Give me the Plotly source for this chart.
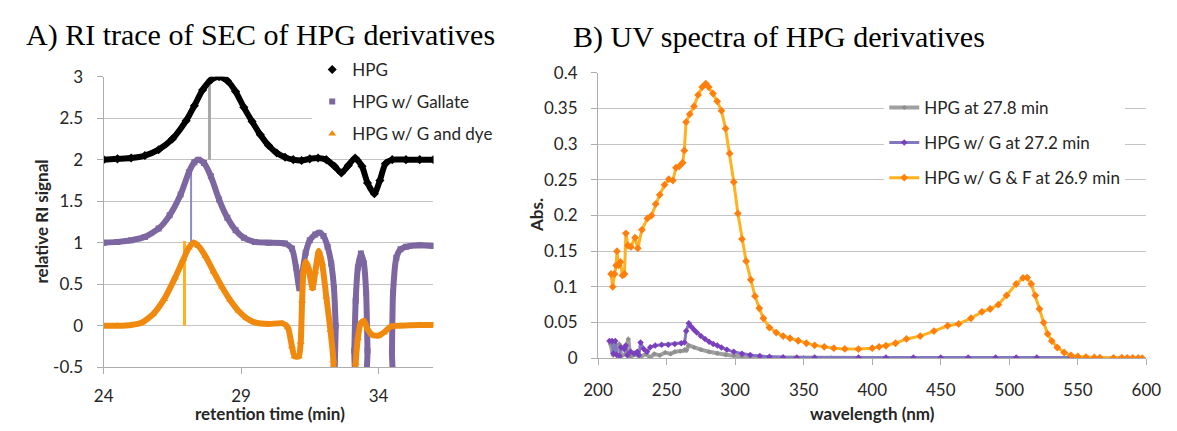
import plotly.graph_objects as go

# ---------------- Panel A: RI trace of SEC ----------------
rt_hpg = [24.0, 24.5, 25.0, 25.5, 26.0, 26.5, 27.0, 27.3, 27.6, 27.9, 28.2, 28.5, 28.8,
          29.1, 29.4, 29.7, 30.0, 30.3, 30.6, 30.9, 31.2, 31.5, 31.8, 32.1, 32.4, 32.65,
          32.9, 33.15, 33.4, 33.6, 33.85, 34.05, 34.25, 34.5, 35.0, 35.5, 36.0]
ri_hpg = [2.00, 2.01, 2.02, 2.05, 2.12, 2.25, 2.47, 2.65, 2.84, 2.96, 3.00, 2.95, 2.82,
          2.63, 2.46, 2.30, 2.17, 2.08, 2.03, 2.00, 1.99, 2.01, 2.02, 2.00, 1.92, 1.84,
          1.93, 2.02, 1.92, 1.72, 1.59, 1.75, 1.95, 2.00, 2.00, 2.00, 2.00]

rt_gal = [24.0, 24.5, 25.0, 25.5, 26.0, 26.4, 26.8, 27.1, 27.3, 27.45, 27.65, 27.9, 28.2,
          28.5, 28.8, 29.1, 29.5, 30.0, 30.6, 30.85, 31.0, 31.12, 31.22, 31.35, 31.5, 31.7,
          31.85, 32.0, 32.15, 32.28, 32.38, 32.44, 32.5, 33.08, 33.12, 33.17, 33.25, 33.36,
          33.47, 33.55, 33.6, 33.63, 34.45, 34.49, 34.53, 34.65, 34.8, 35.0, 35.5, 36.0]
ri_gal = [1.00, 1.01, 1.03, 1.07, 1.17, 1.33, 1.58, 1.85, 1.97, 2.00, 1.96, 1.80, 1.52,
          1.30, 1.15, 1.06, 1.01, 1.00, 0.99, 0.93, 0.70, 0.45, 0.62, 0.88, 1.03, 1.10,
          1.12, 1.08, 0.95, 0.75, 0.45, 0.00, -0.9, -0.9, -0.3, 0.30, 0.70, 0.87,
          0.75, 0.40, -0.3, -0.9, -0.9, -0.3, 0.40, 0.82, 0.92, 0.95, 0.97, 0.96]

rt_dye = [24.0, 24.5, 25.0, 25.4, 25.8, 26.2, 26.6, 26.9, 27.1, 27.27, 27.45, 27.7, 28.0,
          28.3, 28.6, 28.9, 29.2, 29.5, 30.0, 30.5, 30.7, 30.85, 30.95, 31.1, 31.17, 31.22,
          31.27, 31.35, 31.45, 31.6, 31.7, 31.83, 31.95, 32.1, 32.25, 32.36, 32.4, 33.1,
          33.17, 33.25, 33.35, 33.47, 33.6, 33.77, 34.0, 34.2, 34.45, 34.8, 35.5, 36.0]
ri_dye = [0.00, 0.00, 0.01, 0.04, 0.14, 0.32, 0.58, 0.80, 0.94, 1.00, 0.96, 0.84, 0.65,
          0.47, 0.31, 0.18, 0.09, 0.04, 0.02, 0.03, -0.02, -0.25, -0.37, -0.37, -0.20, 0.30,
          0.65, 0.77, 0.70, 0.45, 0.65, 0.90, 0.75, 0.35, -0.05, -0.42, -0.9, -0.9,
          -0.45, -0.15, 0.03, 0.06, -0.04, -0.11, -0.12, -0.08, -0.01, 0.00, 0.01, 0.01]

peak_rt = [27.85, 27.18, 26.94]
peak_lo = [2.0, 1.0, 0.0]
peak_hi = [2.90, 1.88, 1.02]

a_names = ["HPG", "HPG w/ Gallate", "HPG w/ G and dye"]
a_yticks = [-0.5, 0, 0.5, 1, 1.5, 2, 2.5, 3]
a_yticktext = ["-0.5", "0", "0.5", "1", "1.5", "2", "2.5", "3"]
a_xticks = [24, 29, 34]

# ---------------- Panel B: UV spectra ----------------
wl_hpg = [209, 211, 213, 215.5, 217, 220, 222.1, 223.5, 227, 231, 235, 238, 241, 245, 249,
          253, 256, 260, 263, 264.5, 266, 270, 275, 281, 287, 293, 299, 305, 311, 320, 335,
          350, 370, 400, 450, 500, 550, 580]
abs_hpg = [0.020, 0.004, 0.010, 0.020, 0.003, 0.006, 0.027, 0.002, 0.005, 0.002, 0.006,
           0.001, 0.006, 0.004, 0.008, 0.006, 0.009, 0.010, 0.012, 0.011, 0.018, 0.015,
           0.012, 0.009, 0.0067, 0.005, 0.0036, 0.0028, 0.0022, 0.0015, 0.001, 0.0007,
           0.0005, 0.0003, 0.0002, 0.0002, 0.0001, 0.0]

wl_g = [208.3, 210.2, 211.2, 212.6, 213.6, 215.5, 216.7, 219, 220.2, 221.4, 223.8, 226.2,
        228.6, 229.8, 231, 233.3, 235.7, 238.1, 241.7, 246.4, 251.2, 256, 260.7, 263.1,
        264.3, 266.2, 268, 270, 272, 275, 278, 281, 284, 287, 290, 294, 299, 305, 311,
        318, 325, 335, 345, 358, 390, 410, 430, 450, 470, 490, 505, 520, 545]
abs_g = [0.024, 0.024, 0.0067, 0.024, 0.0044, 0.003, 0.0155, 0.013, 0.0178, 0.004, 0.009,
         0.0067, 0.009, 0.0044, 0.022, 0.013, 0.009, 0.0155, 0.0178, 0.0187, 0.019, 0.020,
         0.021, 0.022, 0.038, 0.0489, 0.044, 0.040, 0.036, 0.031, 0.027, 0.023, 0.020,
         0.0178, 0.015, 0.012, 0.0089, 0.0062, 0.0044, 0.003, 0.002, 0.0014, 0.001, 0.001,
         0.001, 0.001, 0.001, 0.001, 0.001, 0.001, 0.001, 0.001, 0.001]

wl_gf = [209.5, 210.7, 212.0, 213.2, 213.8, 215.0, 216.3, 217.8, 219.3, 220.3, 221.8, 224.0,
         227.0, 229.0, 232.0, 236.0, 239.0, 242.0, 245.0, 248.5, 251.6, 254.6, 256.8,
         259.2, 261.7, 262.9, 264.2, 266.9, 270.0, 273.0, 276.0, 278.6, 280.7, 283.8,
         286.9, 290.0, 293.0, 296.0, 299.0, 302.0, 305.0, 308.0, 311.4, 314.5, 317.6,
         320.6, 325, 330, 335, 340, 346, 352, 358, 365, 372, 380, 390, 400, 405, 410,
         417, 425, 435, 445, 455, 463, 472, 480, 486, 492, 498, 505, 510, 513, 516, 519,
         522, 525, 528, 531, 535, 540, 545, 550, 556, 562, 566, 576, 582, 586, 590, 594, 597]
abs_gf = [0.118, 0.100, 0.118, 0.130, 0.150, 0.130, 0.135, 0.116, 0.118, 0.175, 0.158,
          0.156, 0.169, 0.154, 0.180, 0.196, 0.200, 0.216, 0.229, 0.243, 0.251, 0.249,
          0.267, 0.269, 0.274, 0.291, 0.331, 0.342, 0.353, 0.369, 0.380, 0.385, 0.380,
          0.371, 0.360, 0.347, 0.322, 0.287, 0.247, 0.203, 0.167, 0.136, 0.110, 0.087,
          0.070, 0.056, 0.043, 0.036, 0.031, 0.028, 0.0245, 0.021, 0.018, 0.016, 0.014,
          0.013, 0.0128, 0.014, 0.016, 0.0175, 0.021, 0.027, 0.031, 0.038, 0.0455, 0.048,
          0.056, 0.065, 0.069, 0.075, 0.088, 0.104, 0.1125, 0.113, 0.104, 0.088, 0.069,
          0.050, 0.034, 0.024, 0.015, 0.008, 0.004, 0.0025, 0.0015, 0.001, 0.0008, 0.0005,
          0.0008, 0.0005, 0.0006, 0.0004, 0.0]

b_names = ["HPG at 27.8 min", "HPG w/ G at 27.2 min", "HPG w/ G & F at 26.9 min"]
b_xticks = [200, 250, 300, 350, 400, 450, 500, 550, 600]
b_yticks = [0, 0.05, 0.1, 0.15, 0.2, 0.25, 0.3, 0.35, 0.4]

# ---------------- figure ----------------
W, H = 1177, 431
def px(x):
    return x / W
def py(y):
    return 1 - y / H

TICKFONT = dict(family="Lato", size=17, color="#262626")
GRID = "#C4C4C4"
AXL = "#ADADAD"

fig = go.Figure()

# peak-time drop lines
a_line_colors = ["#A8A8A8", "#8C8CC8", "#FFB020"]
a_line_widths = [3, 2, 3]
for t, lo, hi, c, w in zip(peak_rt, peak_lo, peak_hi, a_line_colors, a_line_widths):
    fig.add_trace(go.Scatter(x=[t, t], y=[lo, hi], mode="lines",
                             line=dict(color=c, width=w), showlegend=False,
                             hoverinfo="skip", xaxis="x", yaxis="y"))

a_series = [(rt_hpg, ri_hpg, "#000000", "diamond", 7),
            (rt_gal, ri_gal, "#7C67A0", "square", 6),
            (rt_dye, ri_dye, "#F08A0E", "triangle-up", 7)]
for (xs, ys, col, sym, ms), name in zip(a_series, a_names):
    fig.add_trace(go.Scatter(x=xs, y=ys, mode="lines",
                             line=dict(color=col, width=6, shape="spline", smoothing=0.6),
                             showlegend=False, hoverinfo="skip", xaxis="x", yaxis="y"))
    fig.add_trace(go.Scatter(x=xs, y=ys, mode="markers", name=name,
                             marker=dict(color=col, symbol=sym, size=ms),
                             legend="legend", legendgroup=name, xaxis="x", yaxis="y"))

b_series = [(wl_hpg, abs_hpg, "#A0A0A0", "#8F8F8F", 4, 4),
            (wl_g, abs_g, "#8078C0", "#7B3FBE", 3, 5),
            (wl_gf, abs_gf, "#FFB21E", "#FF7F0E", 3, 6)]
for (xs, ys, lc, mc, lw, ms), name in zip(b_series, b_names):
    fig.add_trace(go.Scatter(x=xs, y=ys, mode="lines+markers", name=name,
                             line=dict(color=lc, width=lw),
                             marker=dict(color=mc, symbol="diamond", size=ms),
                             legend="legend2", legendgroup=name, xaxis="x2", yaxis="y2"))

axis_common = dict(showline=True, linecolor=AXL, linewidth=1.3, ticks="outside",
                   tickcolor=AXL, ticklen=6, tickwidth=1.3, tickfont=TICKFONT,
                   zeroline=False)

fig.update_layout(
    width=W, height=H, margin=dict(l=0, r=0, t=0, b=0),
    paper_bgcolor="white", plot_bgcolor="white",
    xaxis=dict(domain=[px(91), px(429.4)], range=[24, 36], tickvals=a_xticks,
               showgrid=False, anchor="y", ticklabelstandoff=7, **axis_common),
    yaxis=dict(domain=[py(374.5), py(69)], range=[-0.5, 3], tickvals=a_yticks,
               ticktext=a_yticktext, showgrid=True, gridcolor=GRID, gridwidth=1.3,
               anchor="x", ticklabelstandoff=10, **axis_common),
    xaxis2=dict(domain=[px(598.3), px(1161)], range=[200, 600], tickvals=b_xticks,
                showgrid=False, anchor="y2", ticklabelstandoff=10, **axis_common),
    yaxis2=dict(domain=[py(365), py(65)], range=[0, 0.4], tickvals=b_yticks,
                showgrid=True, gridcolor=GRID, gridwidth=1.3, anchor="x2",
                ticklabelstandoff=10, **axis_common),
    legend=dict(x=px(305), y=py(43), xanchor="left", yanchor="top", bgcolor="white",
                font=dict(family="Lato", size=17, color="#262626"),
                tracegroupgap=7, borderwidth=0),
    legend2=dict(x=px(892), y=py(83), xanchor="left", yanchor="top", bgcolor="white",
                 font=dict(family="Lato", size=17, color="#262626"),
                 tracegroupgap=10, borderwidth=0),
    showlegend=True,
)

title_font = dict(family="Liberation Serif", size=30, color="#000000")
lab_font = dict(family="Lato", size=17, color="#262626", weight="bold")
annots = [
    dict(text="A) RI trace of SEC of HPG derivatives", x=px(9), y=py(25),
         xanchor="left", yanchor="middle", font=title_font),
    dict(text="B) UV spectra of HPG derivatives", x=px(571), y=py(27),
         xanchor="left", yanchor="middle", font=title_font),
    dict(text="retention time (min)", x=px(262), y=py(423), xanchor="center",
         yanchor="middle", font=lab_font),
    dict(text="relative RI signal", x=px(27), y=py(221), xanchor="center",
         yanchor="middle", textangle=-90, font=lab_font),
    dict(text="wavelength (nm)", x=px(880), y=py(423), xanchor="center",
         yanchor="middle", font=lab_font),
    dict(text="Abs.", x=px(535), y=py(214), xanchor="center", yanchor="middle",
         textangle=-90, font=lab_font),
]
for a in annots:
    fig.add_annotation(xref="paper", yref="paper", showarrow=False, **a)

fig.write_html("out.html",
               config={"displayModeBar": False},
               post_script="document.body.style.margin='0';"
                           "document.documentElement.style.overflow='hidden';"
                           "document.body.style.overflow='hidden';")
